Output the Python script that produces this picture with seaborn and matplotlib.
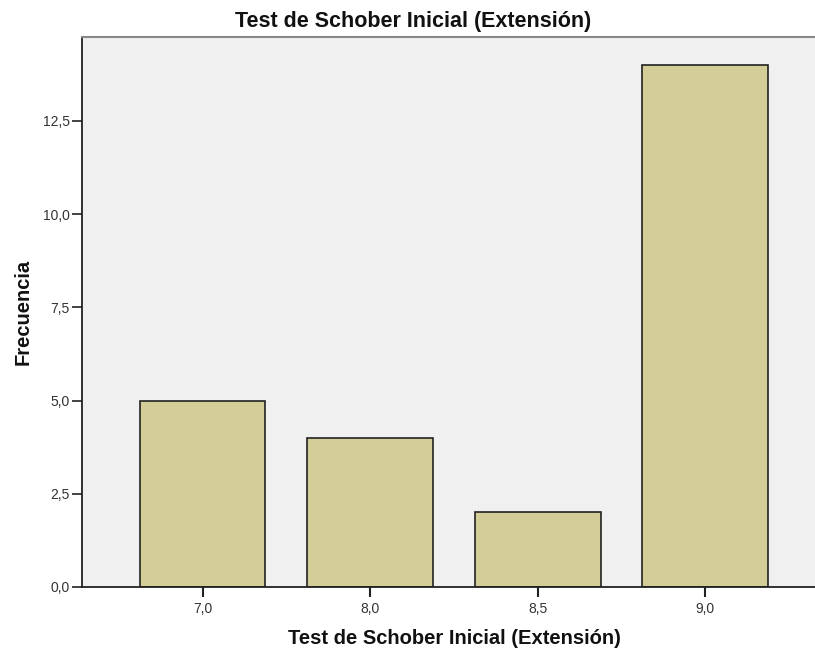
import matplotlib
matplotlib.use("Agg")
import matplotlib.pyplot as plt
import seaborn as sns
import pandas as pd

categories = ["7,0", "8,0", "8,5", "9,0"]
frequencies = [5, 4, 2, 14]
yticks = [0, 2.5, 5.0, 7.5, 10.0, 12.5]
ytick_labels = ["0,0", "2,5", "5,0", "7,5", "10,0", "12,5"]

sns.set_theme(style="white")
plt.rcParams['font.family'] = ['Liberation Sans', 'DejaVu Sans']

df = pd.DataFrame({"cat": categories, "freq": frequencies})

fig = plt.figure(figsize=(8.15, 6.53), dpi=100)
ax = fig.add_axes([82/815, 66/653, (815-82)/815, (587-37)/653])
ax.set_facecolor("#F0F0F0")

sns.barplot(data=df, x="cat", y="freq", ax=ax, color="#D3CE97",
            edgecolor="#222222", linewidth=1.2, width=0.75, saturation=1)

ax.set_xlim(-0.72, 3.655)
ax.set_ylim(0, 14.75)
ax.set_yticks(yticks)
ax.set_yticklabels(ytick_labels)
ax.tick_params(axis="x", bottom=True, labelsize=10, labelcolor="#333333", color="#222222",
               length=7, width=1.5, direction="out", pad=4)
ax.tick_params(axis="y", left=True, labelsize=10, labelcolor="#333333", color="#222222",
               length=7, width=1.2, direction="out", pad=2)

for s in ["left", "bottom"]:
    ax.spines[s].set_color("#222222")
    ax.spines[s].set_linewidth(1.3)
ax.spines["top"].set_color("#888888")
ax.spines["top"].set_linewidth(1.5)
ax.spines["right"].set_visible(False)

ax.set_xlabel("Test de Schober Inicial (Extensión)", fontsize=14.5, fontweight="bold", labelpad=9, color="#111111")
ax.xaxis.label.set_x((454 - 82) / 733)
ax.set_ylabel("Frecuencia", fontsize=14.5, fontweight="bold", labelpad=7, color="#111111")
fig.text(413/815, 1 - 21/653, "Test de Schober Inicial (Extensión)", ha="center", va="center",
         fontsize=15.5, fontweight="bold", color="#111111")

fig.savefig("out.png", dpi=100)
